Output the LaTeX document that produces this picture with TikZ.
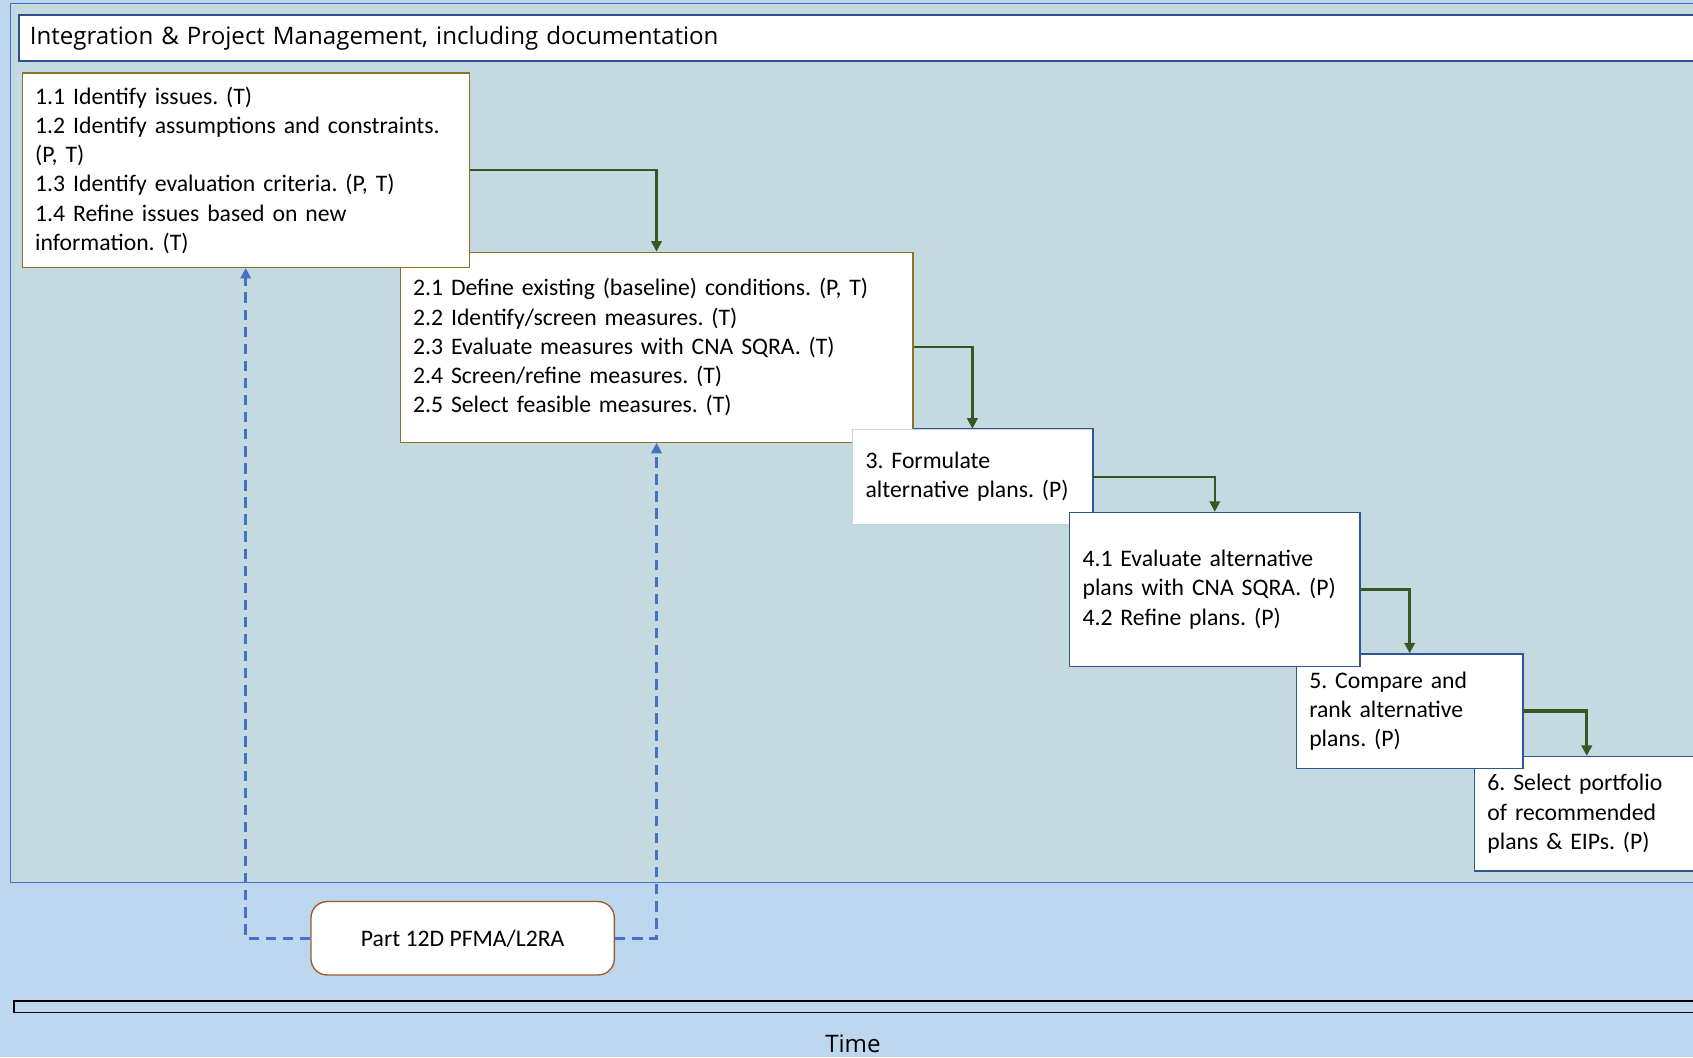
\documentclass[tikz,border=0pt]{standalone}
\usepackage{fontspec}
\setmainfont{Carlito}
\newfontfamily\headfont{Open Sans}
\usetikzlibrary{arrows.meta, positioning}
\definecolor{bgblue}{HTML}{BDD7EE}
\definecolor{panelfill}{HTML}{C5D9E0}
\definecolor{panelline}{HTML}{4472C4}
\definecolor{headline}{HTML}{2F4F8A}
\definecolor{taskline}{HTML}{8C7328}
\definecolor{stepblue}{HTML}{2F5597}
\definecolor{arrowgreen}{HTML}{375623}
\definecolor{linkblue}{HTML}{4472C4}
\definecolor{partline}{HTML}{9E5A2C}
\newcommand{\boxfont}{\frenchspacing\fontsize{12.5pt}{15.4pt}\selectfont}
\newcommand{\headsize}{\fontsize{12.7pt}{15pt}\selectfont}

\begin{document}
\begin{tikzpicture}[x=0.02cm, y=-0.02cm, >={Triangle[width=5.5pt,length=5.5pt]}]
\tikzstyle{task}=[draw=taskline, line width=0.7pt, fill=white, anchor=north west, align=left, inner xsep=0.24cm, font=\boxfont]
\tikzstyle{stage}=[task, draw=stepblue]
\tikzstyle{flow}=[->, draw=arrowgreen, line width=1.2pt]
\tikzstyle{link}=[->, draw=linkblue, line width=1.3pt, dash pattern=on 5.5pt off 3.5pt]
\tikzstyle{part}=[draw=partline, line width=0.7pt, fill=white, rounded corners=0.3cm, font=\boxfont]
\clip (0,0) rectangle (1568,979);
% background and panel
\fill[bgblue] (0,0) rectangle (1568,979);
\draw[panelline, fill=panelfill, line width=0.6pt] (10,3) rectangle (1640,817);
\node[draw=headline, line width=0.8pt, fill=white, anchor=north west, minimum height=0.86cm, text width=31.5cm, inner xsep=0.2cm, align=left, font=\headfont\headsize] (head) at (17,13) {Integration \& Project Management, including documentation};
% steps
\node[task, text width=9.02cm, minimum height=3.52cm] (b2) at (370,233) {2.1 Define existing (baseline) conditions. (P, T)\\2.2 Identify/screen measures. (T)\\2.3 Evaluate measures with CNA SQRA. (T)\\2.4 Screen/refine measures. (T)\\2.5 Select feasible measures. (T)};
\node[task, text width=7.8cm, minimum height=3.6cm] (b1) at (20,67) {1.1 Identify issues. (T)\\1.2 Identify assumptions and constraints.\\(P, T)\\1.3 Identify evaluation criteria. (P, T)\\1.4 Refine issues based on new\\information. (T)};
\node[stage, draw=stepblue!25, text width=3.96cm, minimum height=1.76cm] (b3) at (789,397) {3. Formulate\\alternative plans. (P)};
\draw[stepblue, line width=0.7pt] (b2.east |- b3.north) -- (b3.north east) -- (b3.south east);
\node[stage, text width=3.68cm, minimum height=2.12cm] (b6) at (1365,700) {6. Select portfolio\\of recommended\\plans \& EIPs. (P)};
\node[stage, text width=3.72cm, minimum height=2.12cm] (b5) at (1200,605) {5. Compare and\\rank alternative\\plans. (P)};
\node[stage, text width=4.9cm, minimum height=2.86cm] (b4) at (990,474) {4.1 Evaluate alternative\\plans with CNA SQRA. (P)\\4.2 Refine plans. (P)};
% arrows between steps
\draw[flow] (b1.east) -| (b2.north);
\draw[flow] (b2.east) -| (b3.north);
\draw[flow] (b3.east) -| (b4.north);
\draw[flow, line width=1.7pt] (b4.east) -| (b5.north);
\draw[flow, line width=1.7pt] (b5.east) -| (b6.north);
% part 12D
\node[part, minimum width=5.62cm, minimum height=1.36cm] (pfma) at (428.5,869) {Part 12D PFMA/L2RA};
\draw[link] (pfma.west) -| (b1.south);
\draw[link] (pfma.east) -| (b2.south);
% time axis
\draw[black, line width=0.7pt] (13,927) rectangle (1640,938);
\node[font=\headfont\headsize, inner sep=0pt] (time) at (790,967) {Time};
\end{tikzpicture}
\end{document}
